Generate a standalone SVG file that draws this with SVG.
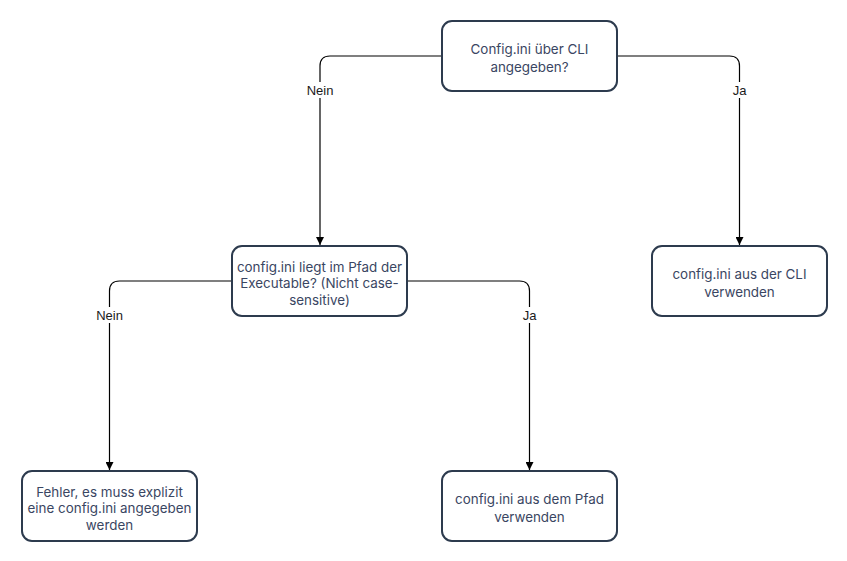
<svg xmlns="http://www.w3.org/2000/svg" width="847" height="561" viewBox="0 0 847 561">
  <defs>
    <marker id="arrow" viewBox="0 0 10 10" refX="10" refY="5" markerWidth="8" markerHeight="8" markerUnits="userSpaceOnUse" orient="auto">
      <path d="M0,0 L10,5 L0,10 z" fill="#000"/>
    </marker>
    <style>
      .node rect { fill: #ffffff; stroke: #2d3b4e; stroke-width: 2; }
      .node text { font-family: Inter, "Noto Sans", sans-serif; font-size: 13.4px; fill: #3a4662; text-anchor: middle; }
      .edge { fill: none; stroke: #000; stroke-width: 1.2; marker-end: url(#arrow); }
      .lbl-bg { fill: #ffffff; }
      .lbl { font-family: "Liberation Sans", Arial, sans-serif; font-size: 13px; fill: #1a1a1a; text-anchor: middle; }
    </style>
  </defs>
  <rect width="847" height="561" fill="#ffffff"/>

  <g id="connectors">
    <path class="edge" d="M442,56 H330 Q320,56 320,66 V245"/>
    <path class="edge" d="M617,56 H729.5 Q739.5,56 739.5,66 V245"/>
    <path class="edge" d="M232,281 H119.5 Q109.5,281 109.5,291 V470"/>
    <path class="edge" d="M407,281 H519.5 Q529.5,281 529.5,291 V470"/>
    <rect class="lbl-bg" x="303" y="82" width="34" height="16"/>
    <text class="lbl" x="320" y="95">Nein</text>
    <rect class="lbl-bg" x="729" y="82" width="21" height="16"/>
    <text class="lbl" x="739.5" y="95">Ja</text>
    <rect class="lbl-bg" x="92" y="307" width="34" height="16"/>
    <text class="lbl" x="109.5" y="320">Nein</text>
    <rect class="lbl-bg" x="519" y="307" width="21" height="16"/>
    <text class="lbl" x="529.5" y="320">Ja</text>
  </g>

  <g id="q-cli" class="node">
    <rect x="442" y="21" width="175" height="70" rx="10"/>
    <text x="529.5" y="53.5">Config.ini über CLI</text>
    <text x="529.5" y="71.5">angegeben?</text>
  </g>

  <g id="q-pfad" class="node">
    <rect x="232" y="246" width="175" height="70" rx="10"/>
    <text x="319.5" y="271.5">config.ini liegt im Pfad der</text>
    <text x="319.5" y="288">Executable? (Nicht case-</text>
    <text x="319.5" y="304.5">sensitive)</text>
  </g>

  <g id="cli-verwenden" class="node">
    <rect x="652" y="246" width="175" height="70" rx="10"/>
    <text x="739.5" y="278.5">config.ini aus der CLI</text>
    <text x="739.5" y="296.5">verwenden</text>
  </g>

  <g id="fehler" class="node">
    <rect x="22" y="471" width="175" height="70" rx="10"/>
    <text x="109.5" y="496.5">Fehler, es muss explizit</text>
    <text x="109.5" y="513">eine config.ini angegeben</text>
    <text x="109.5" y="529.5">werden</text>
  </g>

  <g id="pfad-verwenden" class="node">
    <rect x="442" y="471" width="175" height="70" rx="10"/>
    <text x="529.5" y="503.5">config.ini aus dem Pfad</text>
    <text x="529.5" y="521.5">verwenden</text>
  </g>
</svg>
